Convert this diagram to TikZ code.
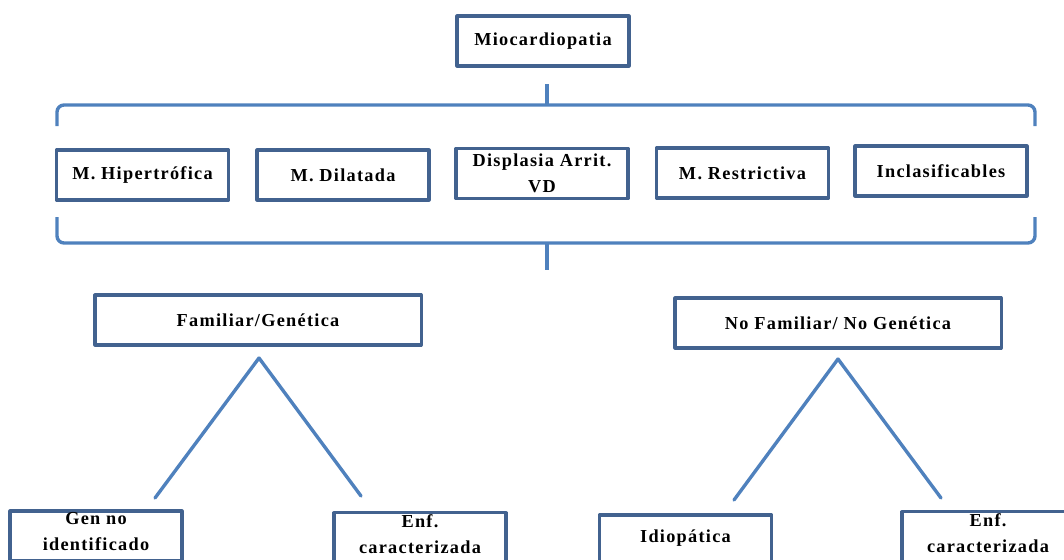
\documentclass[tikz,border=0pt]{standalone}
\usepackage{fontspec}
\setmainfont{Liberation Serif}[LetterSpace=7]
\usepackage{tikz}
\definecolor{boxblue}{RGB}{66,98,143}
\definecolor{lineblue}{RGB}{79,129,189}

\begin{document}
\begin{tikzpicture}[x=0.025cm, y=-0.025cm, line join=round]
			\tikzstyle{box}=[draw=boxblue, line width=2.2pt, fill=white, minimum width=4.3cm, minimum height=1.25cm, inner sep=1pt, align=center, font=\fontsize{13}{18.5}\selectfont\bfseries]
			\tikzstyle{wide} = [box, minimum width=8.15cm]
			\tikzstyle{low} = [box, text depth=6pt]
			\tikzstyle{brace} = [draw=lineblue, line width=2.4pt, rounded corners=5pt]
			\tikzstyle{leg} = [draw=lineblue, line width=2.4pt, line cap=round]
			
			\useasboundingbox (0,0) rectangle (1064,559);
			\clip (0,0) rectangle (1064,559);
			
			% Draw top and the five types
			\node[box] (mio) at (543,41) {Miocardiopatia};
			\node[box] (hip) at (142.5,175) {M. Hipertrófica};
			\node[box] (dil) at (343,175) {M. Dilatada};
			\node[box] (dis) at (542,173.5) {Displasia Arrit.\\VD};
			\node[box] (res) at (742.5,173) {M. Restrictiva};
			\node[box] (inc) at (941,171) {Inclasificables};
			
			% Draw braces
			\coordinate (tbl) at (57,126);
			\coordinate (tbr) at (1035,126);
			\coordinate (tbtip) at (547,84);
			\coordinate (bbl) at (57,217);
			\coordinate (bbr) at (1035,217);
			\coordinate (bbtip) at (547,270);
			\path[brace] (tbl) |- (547,105) -| (tbr);
			\path[brace, sharp corners] (547,105) -- (tbtip);
			\path[brace] (bbl) |- (547,243) -| (bbr);
			\path[brace, sharp corners] (547,243) -- (bbtip);
			
			% Draw the two groups
			\node[wide] (fam) at (258,320) {Familiar/Genética};
			\node[wide] (nofam) at (838,323) {No Familiar/ No Genética};
			
			\node[low] (gen) at (96,536) {Gen no\\identificado};
			\node[low] (enfa) at (420,538) {Enf.\\caracterizada};
			\node[low] (idio) at (685.5,540) {Idiopática};
			\node[low] (enfb) at (988,537) {Enf.\\caracterizada};
			
			% Draw legs
			\coordinate (famtop) at (259,358);
			\coordinate (famleft) at (155,498);
			\coordinate (famright) at (361,496);
			\coordinate (nofamtop) at (838,359);
			\coordinate (nofamleft) at (734,500);
			\coordinate (nofamright) at (941,498);
			\path[leg] (famtop) edge (famleft);
			\path[leg] (famtop) edge (famright);
			\path[leg] (nofamtop) edge (nofamleft);
			\path[leg] (nofamtop) edge (nofamright);
			
		\end{tikzpicture}
\end{document}
